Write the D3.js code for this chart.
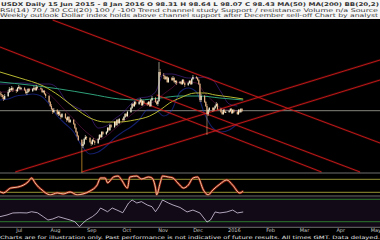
<!DOCTYPE html>
<html>
<head>
<meta charset="utf-8">
<script src="https://cdn.jsdelivr.net/npm/d3@7"></script>
<style>
  html, body { margin: 0; padding: 0; background: #000; }
  svg { display: block; font-family: "DejaVu Sans", sans-serif; }
</style>
</head>
<body>
<div id="chart"></div>
<script>
// ------------ DATA ------------
// daily candles [open, high, low, close], weekdays starting 15 Jun 2015
var firstDay = "2015-06-15";
var candles = [
  [79,81,76,78],[78,80,75,77],[77,78,73,75],[75,77,71,73],[73,78,72,76],
  [76,82,75,80],[80,85,79,83],[83,84,80,82],[82,86,81,84],[84,85,80,82],
  [82,83,79,81],[81,85,80,84],[84,87,83,85],[85,86,82,83],[83,85,82,84],
  [84,85,81,82],[82,83,78,79],[79,81,77,80],[80,84,79,83],[83,84,80,81],
  [81,84,80,83],[83,86,82,84],[84,85,81,82],[82,87,81,85],[85,86,83,84],
  [84,85,82,83],[83,84,79,80],[80,82,79,81],[81,82,77,78],[78,79,74,76],
  [76,77,69,70],[70,71,65,66],[66,68,62,63],[63,64,58,60],[60,64,59,62],
  [62,63,57,58],[58,61,56,60],[60,61,56,57],[57,58,53,55],[55,59,54,58],
  [58,59,53,54],[54,55,50,52],[52,56,51,55],[55,56,49,50],[50,53,49,52],
  [52,53,47,48],[48,49,43,44],[44,45,39,40],[40,41,35,36],[36,37,31,32],
  [32,33,20,26],[26,30,24,28],[28,34,27,33],[33,37,32,35],[35,36,32,34],
  [34,35,29,30],[30,31,26,28],[28,33,27,32],[32,34,30,31],[31,32,27,29],
  [29,34,28,33],[33,38,32,37],[37,38,34,35],[35,41,34,40],[40,41,37,38],
  [38,41,37,40],[40,45,39,44],[44,45,41,42],[42,48,41,47],[47,48,44,45],
  [45,51,44,50],[50,51,46,47],[47,53,46,52],[52,53,48,49],[49,54,48,53],
  [53,54,50,52],[52,56,51,55],[55,59,54,58],[58,59,55,56],[56,61,55,60],
  [60,65,59,64],[64,69,63,68],[68,69,65,66],[66,71,65,70],[70,71,67,68],
  [68,71,67,70],[70,74,69,72],[72,73,66,67],[67,72,66,71],[71,72,68,69],
  [69,70,66,68],[68,71,67,70],[70,71,65,66],[66,73,65,72],[72,76,71,74],
  [74,75,69,70],[70,71,67,68],[68,72,66,71],[71,110,70,100],[100,103,95,97],
  [97,99,93,96],[96,97,92,93],[93,96,92,95],[95,96,89,90],[90,95,89,94],
  [94,95,91,92],[92,96,91,94],[94,95,89,90],[90,92,88,91],[91,92,87,89],
  [89,91,88,90],[90,91,87,88],[88,93,87,92],[92,93,88,89],[89,90,85,87],
  [87,90,86,89],[89,92,88,91],[91,92,87,88],[88,94,87,93],[93,97,92,95],
  [95,96,93,94],[94,95,91,92],[92,93,87,88],[88,89,70,72],[72,78,70,76],
  [76,77,69,70],[70,71,65,66],[66,68,37,58],[58,63,56,62],[62,65,60,64],
  [64,65,60,62],[62,65,61,64],[64,67,63,66],[66,70,65,68],[68,69,62,63],
  [63,64,59,60],[60,61,57,58],[58,63,57,62],[62,63,59,60],[60,61,59,60],
  [60,62,59,61],[61,64,60,63],[63,64,58,59],[59,63,58,62],[62,63,59,60],
  [60,61,57,58],[58,63,57,62],[62,63,59,60],[60,64,59,63],[63,64,60,61]
];

// slower moving average (yellow)
var maYellowDates = ["2015-06-15","2015-07-02","2015-07-22","2015-08-05","2015-08-18","2015-08-31",
  "2015-09-13","2015-09-25","2015-10-08","2015-10-21","2015-10-30","2015-11-07","2015-11-16",
  "2015-11-29","2015-12-07","2015-12-16","2015-12-29","2016-01-09"];
var maYellow = [100,94,86,76,64,54,50,50,52,56,62,69,74,79,79,77,75,73];

// long moving average (teal)
var maTealDates = ["2015-06-15","2015-07-10","2015-08-05","2015-08-31","2015-09-25","2015-10-12",
  "2015-10-30","2015-11-16","2015-12-03","2015-12-20","2016-01-09"];
var maTeal = [90,87,83,78,73,72,74,76,76,74,72];

// bands, one value per week (Mondays)
var bandUpper = [88,88,89,89,88,88,88,84,72,66,62,55,44,46,53,59,68,74,75,80,98,98,96,94,94,95,92,80,68,66];
var bandMiddle = [80,80,82,82,83,82,78,70,61,53,44,37,32,36,43,50,57,63,68,71,78,84,90,90,89,79,71,64,62,61];
var bandLower = [72,73,76,77,78,76,68,56,48,40,26,18,20,26,34,40,45,52,62,62,56,62,80,84,80,58,44,40,42,48];

// trend lines
var trendFrom = ["2015-07-30","2015-06-15","2015-10-27","2015-06-28","2015-08-24"];
var trendFromVal = [152,125,77,0,0];
var trendTo = ["2016-05-05","2016-03-16","2016-04-18","2016-05-05","2016-05-05"];
var trendToVal = [29,0,0,112,92];
var levelValue = 61.3;
var markerDate = "2015-08-24";

// RSI
var rsiDates = ["2015-06-15","2015-06-18","2015-06-24","2015-06-30","2015-07-05","2015-07-09","2015-07-12",
  "2015-07-15","2015-07-18","2015-07-21","2015-07-24","2015-07-28","2015-08-03","2015-08-08","2015-08-14",
  "2015-08-20","2015-08-25","2015-08-31","2015-09-06","2015-09-09","2015-09-13","2015-09-15","2015-09-20",
  "2015-09-24","2015-09-27","2015-10-02","2015-10-04","2015-10-10","2015-10-14","2015-10-20","2015-10-23",
  "2015-10-26","2015-10-27","2015-10-30","2015-11-01","2015-11-06","2015-11-10","2015-11-14","2015-11-19",
  "2015-11-23","2015-11-27","2015-12-01","2015-12-06","2015-12-10","2015-12-14","2015-12-20","2015-12-26",
  "2015-12-31","2016-01-06","2016-01-09"];
var rsiValues = [32,28,43,46,52,62,74,59,46,37,28,22,28,25,31,22,25,34,52,74,74,59,77,80,68,43,77,80,71,77,74,
  43,22,59,80,77,74,59,43,52,74,77,37,22,37,55,68,52,28,34];
var rsiLevels = [30,70];

// lower oscillator
var oscDates = ["2015-06-15","2015-06-21","2015-06-26","2015-07-02","2015-07-08","2015-07-12","2015-07-17",
  "2015-07-22","2015-07-26","2015-07-30","2015-08-04","2015-08-08","2015-08-14","2015-08-18","2015-08-22",
  "2015-08-25","2015-08-28","2015-09-02","2015-09-06","2015-09-09","2015-09-15","2015-09-19","2015-09-23",
  "2015-09-28","2015-10-03","2015-10-06","2015-10-10","2015-10-14","2015-10-19","2015-10-23","2015-10-26",
  "2015-10-29","2015-11-01","2015-11-06","2015-11-10","2015-11-16","2015-11-22","2015-11-27","2015-12-03",
  "2015-12-09","2015-12-12","2015-12-16","2015-12-20","2015-12-26","2015-12-31","2016-01-04","2016-01-09"];
var oscValues = [-55,-40,-22,-20,-22,-11,-20,-55,-85,-76,-55,-67,-85,-100,-145,-112,-85,-55,-22,22,-11,22,4,
  -20,67,94,67,79,49,34,-11,34,94,67,49,27,-13,4,-22,-103,-85,-13,-22,-13,4,-22,-13];
var oscLevels = [-100,100];

var headerLines = [
  "USDX  Daily  15 Jun 2015 - 8 Jan 2016   O 98.31  H 98.64  L 98.07  C 98.43   MA(50) MA(200) BB(20,2)",
  "RSI(14) 70 / 30    CCI(20) 100 / -100    Trend channel study   Support / resistance   Volume n/a   Source",
  "Weekly outlook   Dollar index holds above channel support after December sell-off   Chart by analyst"
];
var footerText = "Charts are for illustration only. Past performance is not indicative of future results. All times GMT. Data delayed.";

// ------------ CHART SETUP ------------
var svgWidth = 380;
var svgHeight = 240;

var parse = d3.timeParse("%Y-%m-%d");

var svg = d3.select("#chart")
  .append("svg")
  .attr("width", svgWidth)
  .attr("height", svgHeight);

svg.append("rect").attr("width", svgWidth).attr("height", svgHeight).attr("fill", "#000");

var x = d3.scaleTime()
  .domain([parse("2015-06-15"), parse("2016-05-05")])
  .range([0, svgWidth]);
var y = d3.scaleLinear().domain([0, 152]).range([172, 20]);
var yRsi = d3.scaleLinear().domain([30, 70]).range([192.3, 179.3]);
var yOsc = d3.scaleLinear().domain([-100, 100]).range([221.7, 199.3]);

// clip areas for the three panels
var defs = svg.append("defs");
defs.append("clipPath").attr("id", "clipMain")
  .append("rect").attr("x", 0).attr("y", 19).attr("width", svgWidth).attr("height", 154);
defs.append("clipPath").attr("id", "clipRsi")
  .append("rect").attr("x", 0).attr("y", 173.5).attr("width", svgWidth).attr("height", 22);
defs.append("clipPath").attr("id", "clipOsc")
  .append("rect").attr("x", 0).attr("y", 197).attr("width", svgWidth).attr("height", 30);

// ------------ HEADER ------------
svg.append("rect").attr("width", svgWidth).attr("height", 19).attr("fill", "#f6f6f6");
svg.append("g").selectAll("text")
  .data(headerLines)
  .enter()
  .append("text")
    .attr("x", (d, i) => i === 0 ? 1 : 0)
    .attr("y", (d, i) => 6 + i * 5.6)
    .attr("font-size", "5px")
    .attr("font-weight", (d, i) => i === 0 ? "bold" : "normal")
    .attr("fill", "#333")
    .attr("textLength", svgWidth - 2)
    .attr("lengthAdjust", "spacingAndGlyphs")
    .text(d => d);

// ------------ MAIN PANEL ------------
var main = svg.append("g").attr("clip-path", "url(#clipMain)");

var days = d3.timeDay.range(parse(firstDay), parse("2016-02-01"))
  .filter(d => d.getDay() > 0 && d.getDay() < 6)
  .slice(0, candles.length);
var candleData = candles.map((c, i) => ({ date: days[i], open: c[0], high: c[1], low: c[2], close: c[3] }));
var weeks = d3.timeMonday.range(parse(firstDay), parse("2016-02-01")).slice(0, bandUpper.length);

// horizontal level
main.append("line")
  .attr("x1", 0).attr("x2", svgWidth)
  .attr("y1", y(levelValue)).attr("y2", y(levelValue))
  .attr("stroke", "#a8a8a0").attr("stroke-width", 0.8);

// bands
var bandLine = d3.line().x((d, i) => x(weeks[i])).y(d => y(d)).curve(d3.curveMonotoneX);
main.append("path").datum(bandUpper).attr("d", bandLine)
  .attr("fill", "none").attr("stroke", "#5a2ca8").attr("stroke-width", 1).attr("opacity", 0.55);
main.append("path").datum(bandMiddle).attr("d", bandLine)
  .attr("fill", "none").attr("stroke", "#9a2070").attr("stroke-width", 0.8).attr("opacity", 0.5);
main.append("path").datum(bandLower).attr("d", bandLine)
  .attr("fill", "none").attr("stroke", "#2438c0").attr("stroke-width", 1.1).attr("opacity", 0.55);

// moving averages
var maLine = dates => d3.line().x((d, i) => x(parse(dates[i]))).y(d => y(d)).curve(d3.curveMonotoneX);
main.append("path").datum(maTeal).attr("d", maLine(maTealDates))
  .attr("fill", "none").attr("stroke", "#2fa07a").attr("stroke-width", 1);
main.append("path").datum(maYellow).attr("d", maLine(maYellowDates))
  .attr("fill", "none").attr("stroke", "#b8b832").attr("stroke-width", 1);

// trend lines (glow + line)
var trendData = trendFrom.map((d, i) => ({
  x1: x(parse(d)), y1: y(trendFromVal[i]),
  x2: x(parse(trendTo[i])), y2: y(trendToVal[i])
}));
[[2.4, 0.2], [0.9, 1]].forEach(function(s) {
  main.append("g").selectAll("line")
    .data(trendData)
    .enter()
    .append("line")
      .attr("x1", d => d.x1).attr("y1", d => d.y1)
      .attr("x2", d => d.x2).attr("y2", d => d.y2)
      .attr("stroke", "#cc1a1a")
      .attr("stroke-width", s[0])
      .attr("opacity", s[1]);
});

// low marker
var markerCandle = candleData.find(d => +d.date === +parse(markerDate));
main.append("line")
  .attr("x1", x(markerCandle.date)).attr("x2", x(markerCandle.date))
  .attr("y1", y(markerCandle.low)).attr("y2", y(0) + 1)
  .attr("stroke", "#c8902a").attr("stroke-width", 0.8);

// candles
var upColor = "#f2ecd2";
var downColor = "#e0ae80";
main.append("g").selectAll("line")
  .data(candleData)
  .enter()
  .append("line")
    .attr("x1", d => x(d.date)).attr("x2", d => x(d.date))
    .attr("y1", d => y(d.high)).attr("y2", d => y(d.low))
    .attr("stroke", d => d.close >= d.open ? upColor : downColor)
    .attr("stroke-width", 0.6);
main.append("g").selectAll("rect")
  .data(candleData)
  .enter()
  .append("rect")
    .attr("x", d => x(d.date) - 0.6)
    .attr("width", 1.2)
    .attr("y", d => y(Math.max(d.open, d.close)))
    .attr("height", d => Math.max(0.8, Math.abs(y(d.open) - y(d.close))))
    .attr("fill", d => d.close >= d.open ? upColor : downColor);

// ------------ RSI PANEL ------------
svg.append("line").attr("x1", 0).attr("x2", svgWidth).attr("y1", 173).attr("y2", 173)
  .attr("stroke", "#8a8a8a").attr("stroke-width", 0.8);
svg.append("line").attr("x1", 0).attr("x2", svgWidth).attr("y1", 196).attr("y2", 196)
  .attr("stroke", "#8a8a8a").attr("stroke-width", 0.8);

var rsiG = svg.append("g").attr("clip-path", "url(#clipRsi)");
rsiG.selectAll("line")
  .data(rsiLevels)
  .enter()
  .append("line")
    .attr("x1", 0).attr("x2", svgWidth)
    .attr("y1", d => yRsi(d)).attr("y2", d => yRsi(d))
    .attr("stroke", "#a8a438").attr("stroke-width", 0.9);

var rsiLine = d3.line().x((d, i) => x(parse(rsiDates[i]))).y(d => yRsi(d)).curve(d3.curveMonotoneX);
rsiG.append("path").datum(rsiValues).attr("d", rsiLine)
  .attr("fill", "none").attr("stroke", "#c42814").attr("stroke-width", 2.4).attr("opacity", 0.75);
rsiG.append("path").datum(rsiValues).attr("d", rsiLine)
  .attr("fill", "none").attr("stroke", "#fff0c8").attr("stroke-width", 0.8);

// ------------ OSCILLATOR PANEL ------------
svg.append("rect").attr("x", 0).attr("y", 197).attr("width", svgWidth).attr("height", 30)
  .attr("fill", "#120a16");
svg.append("g").selectAll("line")
  .data(oscLevels)
  .enter()
  .append("line")
    .attr("x1", 0).attr("x2", svgWidth)
    .attr("y1", d => yOsc(d)).attr("y2", d => yOsc(d))
    .attr("stroke", "#2a7a2a").attr("stroke-width", 1);

var oscLine = d3.line().x((d, i) => x(parse(oscDates[i]))).y(d => yOsc(d));
svg.append("g").attr("clip-path", "url(#clipOsc)")
  .append("path").datum(oscValues).attr("d", oscLine)
  .attr("fill", "none").attr("stroke", "#d8cce4").attr("stroke-width", 0.8);

svg.append("line").attr("x1", 0).attr("x2", svgWidth).attr("y1", 227.3).attr("y2", 227.3)
  .attr("stroke", "#8a8a8a").attr("stroke-width", 0.8);

// ------------ AXIS ------------
var monthFormat = d => d.getMonth() === 0 ? d3.timeFormat("%Y")(d) : d3.timeFormat("%b")(d);
var xAxis = d3.axisBottom(x)
  .ticks(d3.timeMonth.every(1))
  .tickFormat(monthFormat)
  .tickSize(0)
  .tickPadding(0);
var gAxis = svg.append("g").attr("transform", "translate(0, 228.5)").call(xAxis);
gAxis.select(".domain").remove();
gAxis.selectAll("text")
  .attr("fill", "#c8c8c8")
  .attr("font-size", "5px")
  .attr("font-family", "DejaVu Sans, sans-serif");

// ------------ FOOTER ------------
svg.append("text")
  .attr("x", 0).attr("y", 239)
  .attr("font-size", "4.5px")
  .attr("fill", "#e8e8e8")
  .attr("textLength", svgWidth)
  .attr("lengthAdjust", "spacingAndGlyphs")
  .text(footerText);
</script>
</body>
</html>
